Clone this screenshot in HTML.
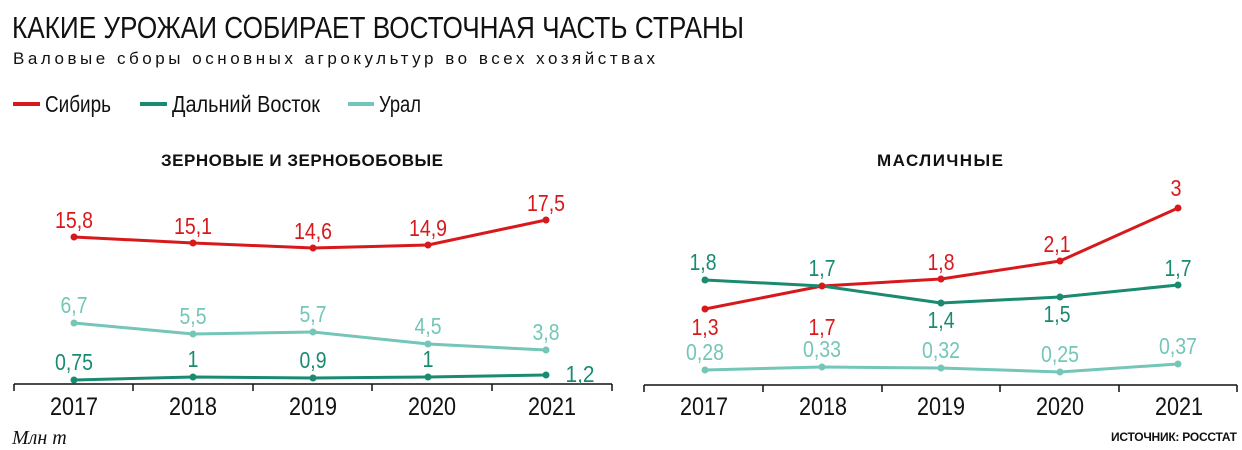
<!DOCTYPE html>
<html><head><meta charset="utf-8"><style>
body{margin:0;background:#fff;}
svg{display:block;font-family:"Liberation Sans Narrow","Liberation Sans",sans-serif;}
</style></head><body>
<svg width="1242" height="450" viewBox="0 0 1242 450" xmlns="http://www.w3.org/2000/svg">
<rect width="1242" height="450" fill="#fff"/>
<text x="12" y="38" font-size="31" fill="#111" textLength="732" lengthAdjust="spacingAndGlyphs">КАКИЕ УРОЖАИ СОБИРАЕТ ВОСТОЧНАЯ ЧАСТЬ СТРАНЫ</text>
<text x="13" y="64" font-size="17" fill="#111" textLength="642" lengthAdjust="spacing">Валовые сборы основных агрокультур во всех хозяйствах</text>
<line x1="13" y1="104" x2="40" y2="104" stroke="#d7191c" stroke-width="4"/>
<text x="45" y="112" font-size="23" fill="#111" textLength="66" lengthAdjust="spacingAndGlyphs">Сибирь</text>
<line x1="140" y1="104" x2="167" y2="104" stroke="#1a8a70" stroke-width="4"/>
<text x="172" y="112" font-size="23" fill="#111" textLength="148" lengthAdjust="spacingAndGlyphs">Дальний Восток</text>
<line x1="348" y1="104" x2="374" y2="104" stroke="#74c6b8" stroke-width="4"/>
<text x="379" y="112" font-size="23" fill="#111" textLength="42" lengthAdjust="spacingAndGlyphs">Урал</text>

<text x="302" y="166" font-size="17" font-weight="bold" fill="#111" text-anchor="middle" textLength="282" lengthAdjust="spacing">ЗЕРНОВЫЕ И ЗЕРНОБОБОВЫЕ</text>
<text x="940" y="166" font-size="17" font-weight="bold" fill="#111" text-anchor="middle" textLength="126" lengthAdjust="spacing">МАСЛИЧНЫЕ</text>

<g stroke="#111" stroke-width="1.5" fill="none">
<line x1="14" y1="384" x2="612" y2="384"/>
<path d="M14 384v7M133 384v7M253 384v7M372 384v7M492 384v7M612 384v7"/>
<line x1="644" y1="385" x2="1237" y2="385"/>
<path d="M644 385v7M763 385v7M882 385v7M1000 385v7M1119 385v7M1237 385v7"/>
</g>
<g font-size="25" fill="#111" text-anchor="middle" lengthAdjust="spacingAndGlyphs">
<text x="74" y="415" textLength="48" lengthAdjust="spacingAndGlyphs">2017</text><text x="193" y="415" textLength="48" lengthAdjust="spacingAndGlyphs">2018</text><text x="313" y="415" textLength="48" lengthAdjust="spacingAndGlyphs">2019</text><text x="432" y="415" textLength="48" lengthAdjust="spacingAndGlyphs">2020</text><text x="552" y="415" textLength="48" lengthAdjust="spacingAndGlyphs">2021</text>
<text x="704" y="415" textLength="48" lengthAdjust="spacingAndGlyphs">2017</text><text x="823" y="415" textLength="48" lengthAdjust="spacingAndGlyphs">2018</text><text x="941" y="415" textLength="48" lengthAdjust="spacingAndGlyphs">2019</text><text x="1060" y="415" textLength="48" lengthAdjust="spacingAndGlyphs">2020</text><text x="1179" y="415" textLength="48" lengthAdjust="spacingAndGlyphs">2021</text>
</g>

<g stroke-width="3" fill="none" stroke-linejoin="round">
<polyline stroke="#d7191c" points="74,237 193,243 313,248 428,245 546,220"/>
<polyline stroke="#74c6b8" points="74,323 193,334 313,332 428,344 546,350"/>
<polyline stroke="#1a8a70" points="74,380 193,377 313,378 428,377 546,375"/>
<polyline stroke="#d7191c" points="705,309 822,286 941,279 1060,261 1178,208"/>
<polyline stroke="#1a8a70" points="705,280 822,286 941,303 1060,297 1178,285"/>
<polyline stroke="#74c6b8" points="705,370 822,367 941,368 1060,372 1178,364"/>
</g>
<g fill="#d7191c"><circle cx="74" cy="237" r="3.5"/><circle cx="193" cy="243" r="3.5"/><circle cx="313" cy="248" r="3.5"/><circle cx="428" cy="245" r="3.5"/><circle cx="546" cy="220" r="3.5"/>
<circle cx="705" cy="309" r="3.5"/><circle cx="822" cy="286" r="3.5"/><circle cx="941" cy="279" r="3.5"/><circle cx="1060" cy="261" r="3.5"/><circle cx="1178" cy="208" r="3.5"/></g>
<g fill="#74c6b8"><circle cx="74" cy="323" r="3.5"/><circle cx="193" cy="334" r="3.5"/><circle cx="313" cy="332" r="3.5"/><circle cx="428" cy="344" r="3.5"/><circle cx="546" cy="350" r="3.5"/>
<circle cx="705" cy="370" r="3.5"/><circle cx="822" cy="367" r="3.5"/><circle cx="941" cy="368" r="3.5"/><circle cx="1060" cy="372" r="3.5"/><circle cx="1178" cy="364" r="3.5"/></g>
<g fill="#1a8a70"><circle cx="74" cy="380" r="3.5"/><circle cx="193" cy="377" r="3.5"/><circle cx="313" cy="378" r="3.5"/><circle cx="428" cy="377" r="3.5"/><circle cx="546" cy="375" r="3.5"/>
<circle cx="705" cy="280" r="3.5"/><circle cx="941" cy="303" r="3.5"/><circle cx="1060" cy="297" r="3.5"/><circle cx="1178" cy="285" r="3.5"/></g>

<g font-size="23" text-anchor="middle">
<g fill="#d7191c">
<text x="74" y="228" textLength="38" lengthAdjust="spacingAndGlyphs">15,8</text><text x="193" y="234" textLength="38" lengthAdjust="spacingAndGlyphs">15,1</text><text x="313" y="239" textLength="38" lengthAdjust="spacingAndGlyphs">14,6</text><text x="428" y="236" textLength="38" lengthAdjust="spacingAndGlyphs">14,9</text><text x="546" y="211" textLength="38" lengthAdjust="spacingAndGlyphs">17,5</text>
<text x="705" y="335" textLength="27" lengthAdjust="spacingAndGlyphs">1,3</text><text x="822" y="335" textLength="27" lengthAdjust="spacingAndGlyphs">1,7</text><text x="941" y="270" textLength="27" lengthAdjust="spacingAndGlyphs">1,8</text><text x="1057" y="252" textLength="27" lengthAdjust="spacingAndGlyphs">2,1</text><text x="1176" y="196" textLength="11" lengthAdjust="spacingAndGlyphs">3</text>
</g>
<g fill="#74c6b8">
<text x="74" y="313" textLength="27" lengthAdjust="spacingAndGlyphs">6,7</text><text x="193" y="324" textLength="27" lengthAdjust="spacingAndGlyphs">5,5</text><text x="313" y="322" textLength="27" lengthAdjust="spacingAndGlyphs">5,7</text><text x="428" y="334" textLength="27" lengthAdjust="spacingAndGlyphs">4,5</text><text x="546" y="340" textLength="27" lengthAdjust="spacingAndGlyphs">3,8</text>
<text x="705" y="360" textLength="38" lengthAdjust="spacingAndGlyphs">0,28</text><text x="822" y="357" textLength="38" lengthAdjust="spacingAndGlyphs">0,33</text><text x="941" y="358" textLength="38" lengthAdjust="spacingAndGlyphs">0,32</text><text x="1060" y="362" textLength="38" lengthAdjust="spacingAndGlyphs">0,25</text><text x="1178" y="354" textLength="38" lengthAdjust="spacingAndGlyphs">0,37</text>
</g>
<g fill="#1a8a70">
<text x="74" y="370" textLength="38" lengthAdjust="spacingAndGlyphs">0,75</text><text x="193" y="367" textLength="11" lengthAdjust="spacingAndGlyphs">1</text><text x="313" y="368" textLength="27" lengthAdjust="spacingAndGlyphs">0,9</text><text x="428" y="367" textLength="11" lengthAdjust="spacingAndGlyphs">1</text><text x="580" y="382" textLength="29" lengthAdjust="spacingAndGlyphs">1,2</text>
<text x="703" y="270" textLength="27" lengthAdjust="spacingAndGlyphs">1,8</text><text x="822" y="276" textLength="27" lengthAdjust="spacingAndGlyphs">1,7</text><text x="941" y="328" textLength="27" lengthAdjust="spacingAndGlyphs">1,4</text><text x="1057" y="322" textLength="27" lengthAdjust="spacingAndGlyphs">1,5</text><text x="1178" y="276" textLength="27" lengthAdjust="spacingAndGlyphs">1,7</text>
</g>
</g>
<text x="12" y="444" font-family="Liberation Serif,serif" font-style="italic" font-size="20" fill="#111">Млн т</text>
<text x="1237" y="441" font-size="12" font-weight="bold" fill="#111" text-anchor="end" textLength="126" lengthAdjust="spacing">ИСТОЧНИК: РОССТАТ</text>
</svg>
</body></html>
